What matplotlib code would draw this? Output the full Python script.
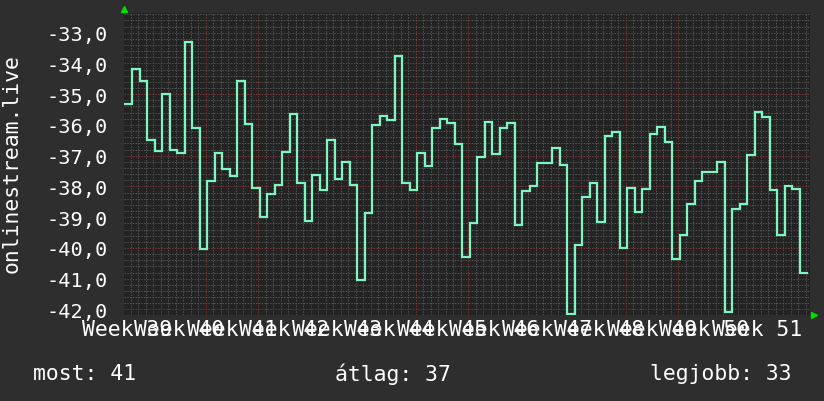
import numpy as np
import matplotlib
matplotlib.use("Agg")
import matplotlib.pyplot as plt
from matplotlib.ticker import FuncFormatter, MultipleLocator
import matplotlib.transforms as mtransforms

# ---- data ----
values = [-35.32, -34.18, -34.56, -36.48, -36.85, -34.99, -36.81, -36.91, -33.29, -36.10,
          -40.05, -37.82, -36.90, -37.43, -37.65, -34.56, -35.97, -38.05, -38.99, -38.23,
          -37.94, -36.88, -35.64, -37.90, -39.11, -37.62, -38.10, -36.49, -37.75, -37.19,
          -37.94, -41.03, -38.85, -36.00, -35.70, -35.83, -33.75, -37.88, -38.10, -36.90,
          -37.32, -36.09, -35.81, -35.94, -36.61, -40.29, -39.18, -37.03, -35.91, -36.93,
          -36.10, -35.95, -39.25, -38.15, -37.98, -37.24, -37.24, -36.74, -37.29, -42.14,
          -39.90, -38.34, -37.89, -39.14, -36.36, -36.23, -39.99, -38.05, -38.84, -38.07,
          -36.29, -36.07, -36.55, -40.35, -39.58, -38.56, -37.82, -37.54, -37.52, -37.19,
          -42.08, -38.72, -38.56, -36.98, -35.57, -35.73, -38.10, -39.58, -37.97, -38.07,
          -40.83]
first_day = 0.13           # start of first daily sample (days from left edge)
week_numbers = list(range(39, 52))
week_start = 3.9           # first Monday gridline (days from left edge)
y_label = "onlinestream.live"
legend_labels = ["most:", "átlag:", "legjobb:"]
legend_values = [41, 37, 33]

# ---- style ----
BACK = "#2e2e2e"
CANVAS = "#232323"
LINE = "#7ff5c2"
MINOR = "#555555"
MAJOR = "#7e3535"
FONT = "DejaVu Sans Mono"
FS = 14.6
FS2 = 15.4

fig = plt.figure(figsize=(8.24, 4.02), dpi=100, facecolor=BACK)
W, H = 824, 402
L, R, T, B = 124, 810, 14, 316
ax = fig.add_axes([L / W, 1 - B / H, (R - L) / W, (B - T) / H])
ax.set_facecolor(CANVAS)

n = len(values)
x_edges = first_day + np.arange(n + 1)
y_ext = np.append(values, values[-1])
ax.plot(x_edges, y_ext, drawstyle="steps-post", color=LINE, lw=1.6, zorder=5,
        solid_joinstyle="miter")

xmax = (R - L) / 7.5
ax.set_xlim(0, xmax)
ax.set_ylim(-42.18, -32.36)

# grid
ax.xaxis.set_major_locator(MultipleLocator(7, offset=week_start % 7))
ax.xaxis.set_minor_locator(MultipleLocator(1, offset=week_start % 1))
ax.yaxis.set_major_locator(MultipleLocator(1))
ax.yaxis.set_minor_locator(MultipleLocator(0.2))
ax.grid(which="minor", color=MINOR, lw=0.72, linestyle=(0, (1.4, 1.4)), zorder=1)
ax.grid(which="major", color=MAJOR, lw=0.72, linestyle=(0, (1.4, 1.4)), zorder=2)
ax.tick_params(axis="x", which="both", length=0, labelbottom=False)
ax.tick_params(axis="y", which="both", length=0, pad=12, labelsize=FS,
               labelcolor="white")
ax.yaxis.set_major_formatter(FuncFormatter(lambda v, p: f"{v:.1f}".replace(".", ",")))
for lab in ax.get_yticklabels():
    lab.set_fontfamily(FONT)
for s in ax.spines.values():
    s.set_visible(False)

# week labels centered mid-week
trans = mtransforms.blended_transform_factory(ax.transData, fig.transFigure)
for i, wk in enumerate(week_numbers):
    xc = week_start - 3.5 + 7 * i
    ax.text(xc, 1 - 330 / H, f"Week {wk}", transform=trans, ha="center", va="center",
            color="white", fontsize=FS2, family=FONT, clip_on=False)

# axis arrows
ax.plot([0], [1.013], marker="^", color="#00dd00", ms=5, transform=ax.transAxes,
        clip_on=False, zorder=6)
ax.plot([1.006], [0.0], marker=">", color="#00dd00", ms=5, transform=ax.transAxes,
        clip_on=False, zorder=6)

fig.text(12 / W, 1 - 164 / H, y_label, rotation=90, ha="center", va="center",
         color="white", fontsize=FS2, family=FONT)

fig.text(33 / W, 1 - 374 / H, f"{legend_labels[0]} {legend_values[0]}", ha="left",
         va="center", color="white", fontsize=FS2, family=FONT)
fig.text(335 / W, 1 - 374 / H, f"{legend_labels[1]} {legend_values[1]}", ha="left",
         va="center", color="white", fontsize=FS2, family=FONT)
fig.text(792 / W, 1 - 374 / H, f"{legend_labels[2]} {legend_values[2]}", ha="right",
         va="center", color="white", fontsize=FS2, family=FONT)

fig.savefig("out.png", dpi=100, facecolor=BACK)
